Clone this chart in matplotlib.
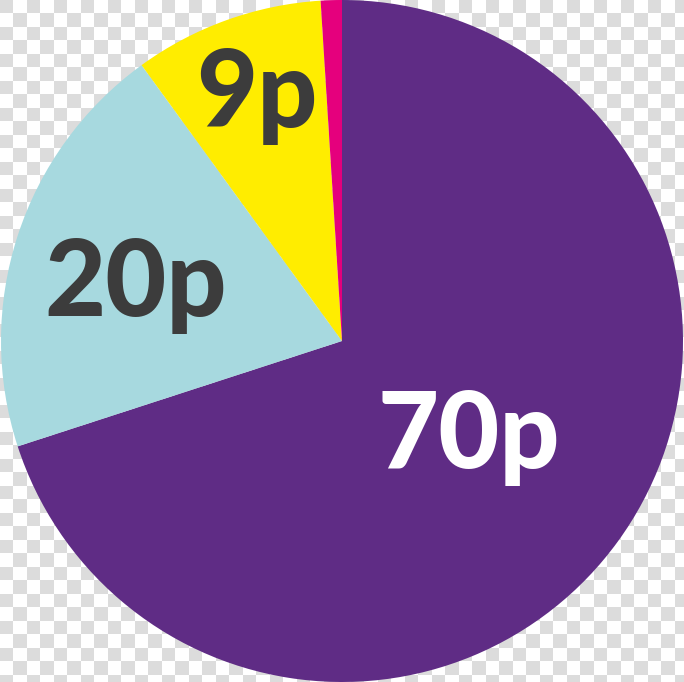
import numpy as np
import matplotlib.pyplot as plt
from matplotlib.colors import ListedColormap

labels = ['70p', '20p', '9p', '1p']
values = [70, 20, 9, 1]
colors = ['#5f2c85', '#a7d9df', '#ffed00', '#e5007d']
text_colors = ['white', '#3c3c3c', '#3c3c3c', None]
label_r = [0.467, 0.626, 0.76, None]
label_shift = [-1.0, 2.8, -0.6, 0]  # degrees off the wedge middle

fig = plt.figure(figsize=(6.84, 6.82), dpi=100)

# transparent-background checkerboard
bg = fig.add_axes([0, 0, 1, 1])
sq = 13.5
nx, ny = int(684 / sq) + 1, int(682 / sq) + 1
checker = (np.add.outer(np.arange(ny), np.arange(nx)) % 2)
bg.imshow(checker, cmap=ListedColormap(['#dcdcdc', '#ffffff']),
          interpolation='nearest', extent=[0, nx * sq, ny * sq, 0])
bg.set_xlim(0, 684)
bg.set_ylim(682, 0)
bg.axis('off')

ax = fig.add_axes([0, 0, 1, 1])
ax.patch.set_alpha(0)
wedges, _ = ax.pie(values, colors=colors, startangle=90, counterclock=False,
                   radius=1.0, wedgeprops=dict(linewidth=0))
for w, lab, tc, r, sh in zip(wedges, labels, text_colors, label_r, label_shift):
    if tc is None:
        continue
    ang = np.deg2rad((w.theta1 + w.theta2) / 2 + sh)
    ax.text(r * np.cos(ang), r * np.sin(ang), lab, color=tc, fontsize=76,
            fontweight='black', family=['Lato', 'DejaVu Sans'],
            ha='center', va='center')
ax.set_xlim(-1.0, 1.0)
ax.set_ylim(-1.0, 1.0)
ax.set_aspect('equal')
ax.axis('off')

fig.savefig('out.png', dpi=100)
